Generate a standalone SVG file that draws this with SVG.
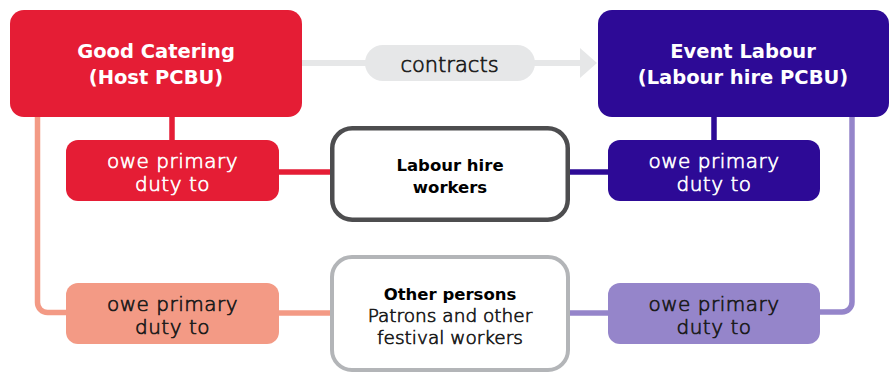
<svg xmlns="http://www.w3.org/2000/svg" width="890" height="373" viewBox="0 0 890 373">
  <style>
    .bold { font-family: "DejaVu Sans", "Liberation Sans", sans-serif; font-weight: 700; text-anchor: middle; }
    .light { font-family: "DejaVu Sans", "Liberation Sans", sans-serif; font-weight: 200; text-anchor: middle; stroke-width: 0.7; }
    .title { font-size: 19.5px; fill: #ffffff; }
    .label { font-size: 21px; }
    .duty { font-size: 20px; letter-spacing: 0.5px; }
    .on-dark { fill: #ffffff; stroke: #ffffff; }
    .on-light { fill: #1a1a1a; stroke: #1a1a1a; }
    .body { font-size: 16.5px; fill: #000000; }
    .note { font-size: 18.5px; }
    .conn { fill: none; stroke-width: 5.5; }
  </style>
  <defs>
    <marker id="arrowhead" markerUnits="userSpaceOnUse" markerWidth="18" markerHeight="30" refX="0" refY="15" orient="auto">
      <path d="M0,0 L17,15 L0,30 Z" fill="#e6e7e8"/>
    </marker>
  </defs>
  <rect width="890" height="373" fill="#ffffff"/>

  <!-- connectors -->
  <g id="connectors">
    <line x1="300" y1="63" x2="366" y2="63" stroke="#e6e7e8" stroke-width="6"/>
    <line x1="532" y1="63" x2="580" y2="63" stroke="#e6e7e8" stroke-width="6" marker-end="url(#arrowhead)"/>
    <line class="conn" x1="172" y1="115" x2="172" y2="142" stroke="#e51d35"/>
    <line class="conn" x1="277" y1="172" x2="334" y2="172" stroke="#e51d35"/>
    <line class="conn" x1="714" y1="115" x2="714" y2="142" stroke="#2d0a96"/>
    <line class="conn" x1="566" y1="172" x2="610" y2="172" stroke="#2d0a96"/>
    <path class="conn" d="M37.5,115 V302.5 A10,10 0 0 0 47.5,312.5 H70" stroke="#f39a85"/>
    <line class="conn" x1="277" y1="313" x2="334" y2="313" stroke="#f39a85"/>
    <path class="conn" d="M852,115 V302 A10,10 0 0 1 842,312 H816" stroke="#9585ca"/>
    <line class="conn" x1="566" y1="313" x2="610" y2="313" stroke="#9585ca"/>
  </g>

  <!-- contracts label -->
  <g id="contracts">
    <rect x="365" y="45" width="170" height="36" rx="18" fill="#e6e7e8"/>
    <text class="light label on-light" x="449.5" y="72">contracts</text>
  </g>

  <!-- host PCBU -->
  <g id="good-catering">
    <rect x="10" y="10" width="292" height="107" rx="14" fill="#e51d35"/>
    <text class="bold title" x="156"><tspan x="156" y="58">Good Catering</tspan><tspan x="156" y="84">(Host PCBU)</tspan></text>
  </g>

  <!-- labour hire PCBU -->
  <g id="event-labour">
    <rect x="598" y="10" width="291" height="107" rx="14" fill="#2d0a96"/>
    <text class="bold title" x="743"><tspan x="743" y="58">Event Labour</tspan><tspan x="743" y="84">(Labour hire PCBU)</tspan></text>
  </g>

  <!-- duty boxes -->
  <g id="host-duty-workers">
    <rect x="66" y="140" width="213" height="61" rx="12" fill="#e51d35"/>
    <text class="light duty on-dark"><tspan x="172.5" y="167.5">owe primary</tspan><tspan x="172.5" y="190.8">duty to</tspan></text>
  </g>
  <g id="labour-duty-workers">
    <rect x="608" y="140" width="212" height="61" rx="12" fill="#2d0a96"/>
    <text class="light duty on-dark"><tspan x="714" y="167.5">owe primary</tspan><tspan x="714" y="190.8">duty to</tspan></text>
  </g>
  <g id="host-duty-others">
    <rect x="66" y="283" width="213" height="61" rx="12" fill="#f39a85"/>
    <text class="light duty on-light"><tspan x="172.5" y="310.5">owe primary</tspan><tspan x="172.5" y="333.8">duty to</tspan></text>
  </g>
  <g id="labour-duty-others">
    <rect x="608" y="283" width="212" height="61" rx="12" fill="#9585ca"/>
    <text class="light duty on-light"><tspan x="714" y="310.5">owe primary</tspan><tspan x="714" y="333.8">duty to</tspan></text>
  </g>

  <!-- persons owed the duty -->
  <g id="labour-hire-workers">
    <rect x="332.25" y="128.25" width="235.5" height="91.5" rx="20" fill="#ffffff" stroke="#4d4d4f" stroke-width="4.5"/>
    <text class="bold body"><tspan x="450" y="171">Labour hire</tspan><tspan x="450" y="193">workers</tspan></text>
  </g>
  <g id="other-persons">
    <rect x="332" y="257" width="236" height="113" rx="20" fill="#ffffff" stroke="#b3b5b8" stroke-width="4"/>
    <text x="450"><tspan class="bold body" x="450" y="300">Other persons</tspan><tspan class="light note on-light" x="450" y="322">Patrons and other</tspan><tspan class="light note on-light" x="450" y="344">festival workers</tspan></text>
  </g>
</svg>
